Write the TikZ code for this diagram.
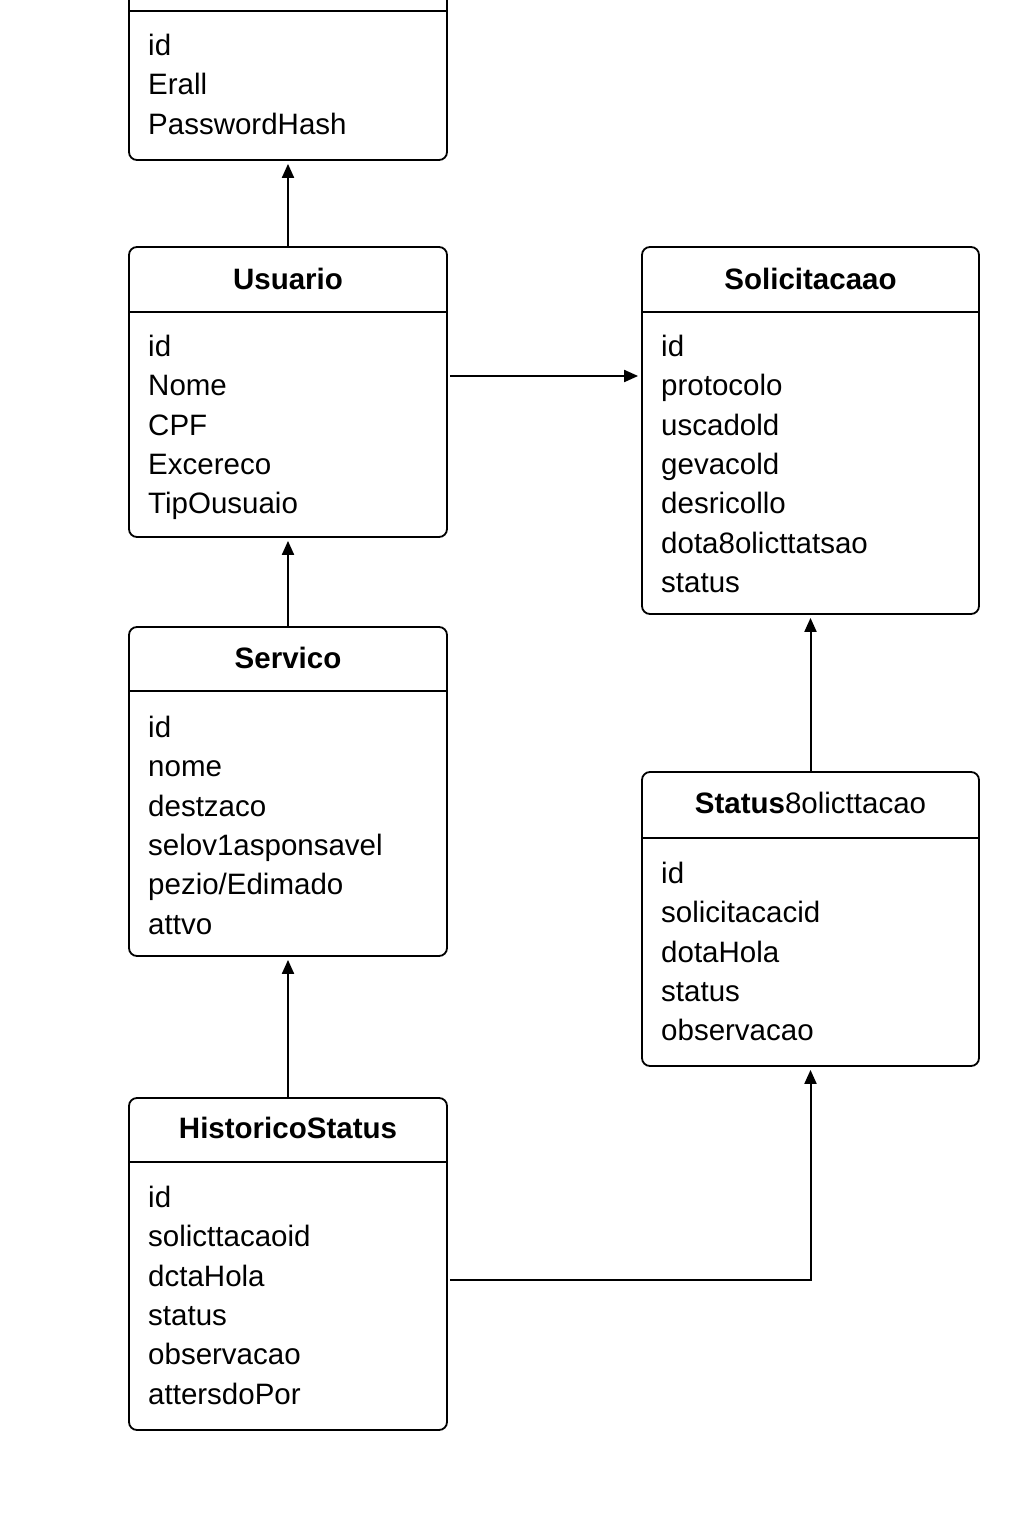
\documentclass[tikz,border=0pt]{standalone}
\usepackage{fontspec}
\setmainfont{Liberation Sans}
\usetikzlibrary{arrows.meta}

\begin{document}
\begin{tikzpicture}[x=1pt,y=-1pt]
            \tikzstyle{entity}=[draw,line width=1.8pt,rounded corners=8pt,minimum width=318pt,inner sep=0pt]
            \tikzstyle{wide entity}=[entity,minimum width=337pt]
            \tikzstyle{title}=[font=\fontsize{29.5}{32}\selectfont\bfseries,inner sep=0pt]
            \tikzstyle{fields}=[font=\fontsize{29.5}{39.3}\selectfont,align=left,anchor=north west,inner sep=0pt]
            \tikzstyle{rule}=[line width=1.8pt]
            \tikzstyle{link}=[line width=2pt,-{Triangle[length=14pt,width=12pt]},shorten >=3pt]

            \clip (0,0) rectangle (1024,1536);

            % left column
            \node[entity,minimum height=220pt] (login) at (288,50) {};
            \draw[rule] (login.west |- 0,11) -- (login.east |- 0,11);
            \node[fields] (loginF) at (148,34) {id\\Erall\\PasswordHash};

            \node[entity,minimum height=290pt] (usuario) at (288,392) {};
            \node[title] (usuarioT) at (288,279) {Usuario};
            \draw[rule] (usuario.west |- 0,312) -- (usuario.east |- 0,312);
            \node[fields] (usuarioF) at (148,335) {id\\Nome\\CPF\\Excereco\\TipOusuaio};

            \node[entity,minimum height=329pt] (servico) at (288,791.5) {};
            \node[title] (servicoT) at (288,658) {Servico};
            \draw[rule] (servico.west |- 0,691) -- (servico.east |- 0,691);
            \node[fields] (servicoF) at (148,716) {id\\nome\\destzaco\\selov1asponsavel\\pezio/Edimado\\attvo};

            \node[entity,minimum height=332pt] (historico) at (288,1264) {};
            \node[title] (historicoT) at (288,1128) {HistoricoStatus};
            \draw[rule] (historico.west |- 0,1162) -- (historico.east |- 0,1162);
            \node[fields] (historicoF) at (148,1186) {id\\solicttacaoid\\dctaHola\\status\\observacao\\attersdoPor};

            % right column
            \node[wide entity,minimum height=367pt] (solic) at (810.5,430.5) {};
            \node[title] (solicT) at (810.5,279) {Solicitacaao};
            \draw[rule] (solic.west |- 0,312) -- (solic.east |- 0,312);
            \node[fields] (solicF) at (661,335) {id\\protocolo\\uscadold\\gevacold\\desricollo\\dota8olicttatsao\\status};

            \node[wide entity,minimum height=294pt] (statsol) at (810.5,919) {};
            \node[title] (statsolT) at (810.5,803) {Status{\mdseries 8olicttacao}};
            \draw[rule] (statsol.west |- 0,838) -- (statsol.east |- 0,838);
            \node[fields] (statsolF) at (661,862) {id\\solicitacacid\\dotaHola\\status\\observacao};

            % links
            \draw[link] (usuario.north) -- (login.south);
            \draw[link] (servico.north) -- (usuario.south);
            \draw[link] (historico.north) -- (servico.south);
            \draw[link] (statsol.north) -- (solic.south);
            \draw[link] ([xshift=2pt,yshift=16pt]usuario.east) coordinate (u1) -- (u1 -| solic.west);
            \draw[link] ([xshift=2pt,yshift=-16pt]historico.east) -| (statsol.south);
        \end{tikzpicture}
\end{document}
